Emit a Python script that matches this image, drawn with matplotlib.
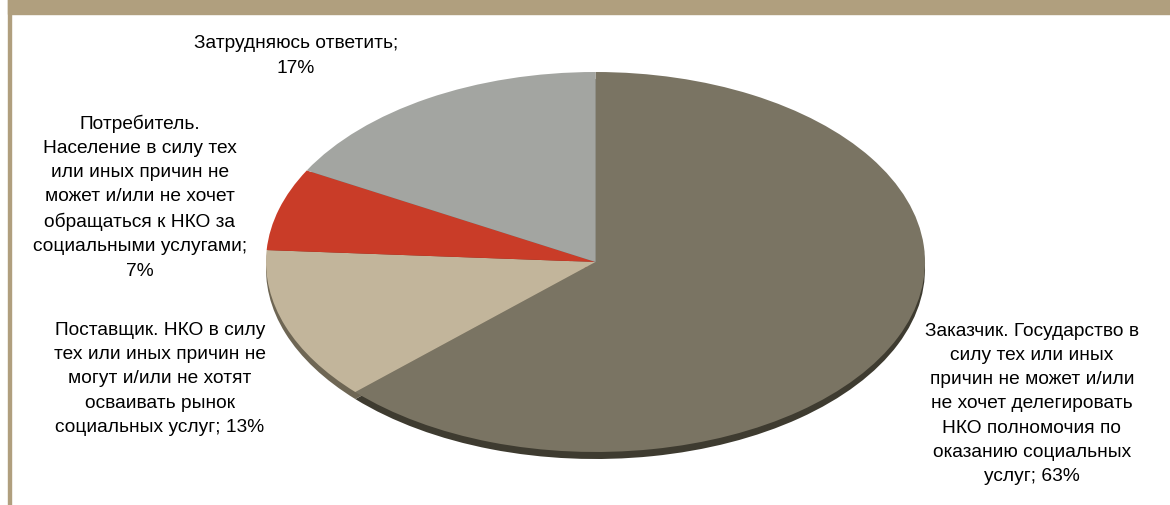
import matplotlib.pyplot as plt
from matplotlib.patches import Rectangle

plt.rcParams['font.family'] = ['Liberation Sans', 'DejaVu Sans']

# slices, clockwise from 12 o'clock
labels = [
    'Заказчик. Государство в\nсилу тех или иных\nпричин не может и/или\nне хочет делегировать\nНКО полномочия по\nоказанию социальных\nуслуг; 63%',
    'Поставщик. НКО в силу\nтех или иных причин не\nмогут и/или не хотят\nосваивать рынок\nсоциальных услуг; 13%',
    'Потребитель.\nНаселение в силу тех\nили иных причин не\nможет и/или не хочет\nобращаться к НКО за\nсоциальными услугами;\n7%',
    'Затрудняюсь ответить;\n17%',
]
values = [63, 13, 7, 17]
colors = ['#7A7463', '#C2B59B', '#C93C28', '#A3A5A1']
rim_colors = ['#3E3B30', '#6E6654', '#7A2518', '#62635F']

W, H = 1170, 506
fig = plt.figure(figsize=(W / 100, H / 100), dpi=100)
fig.patch.set_facecolor('white')

# frame: top banner + left rule
band = '#B09F7E'
fig.patches.append(Rectangle((8 / W, 1 - 15 / H), 1 - 8 / W, 15 / H,
                             transform=fig.transFigure, color=band, zorder=0))
fig.patches.append(Rectangle((8 / W, 0), 3 / W, 1, transform=fig.transFigure,
                             color=band, zorder=0))

# elliptical pie: axes box = ellipse bounds, aspect auto
cx, cy, a, b = 595.5, 262.5, 329.5, 189.5
ax = fig.add_axes([(cx - a) / W, 1 - (cy + b + 8) / H, 2 * a / W, (2 * b + 8) / H])
depth = 7 / b
# rim (shifted copy underneath)
ax.pie(values, colors=rim_colors, startangle=90, counterclock=False,
       radius=1, center=(0, -depth), wedgeprops=dict(linewidth=0))
ax.pie(values, colors=colors, startangle=90, counterclock=False,
       radius=1, center=(0, 0), wedgeprops=dict(linewidth=0))
ax.set_aspect('auto')
ax.set_xlim(-1, 1)
ax.set_ylim(-1 - depth, 1)
ax.axis('off')

# labels (pixel positions of the text block centres)
label_pos = [(1032, 404), (160, 379), (140, 197), (296, 56)]
for text, (x, y) in zip(labels, label_pos):
    fig.text(x / W, 1 - y / H, text, ha='center', va='center',
             fontsize=13.8, linespacing=1.55, color='black')

fig.savefig('out.png', dpi=100)
